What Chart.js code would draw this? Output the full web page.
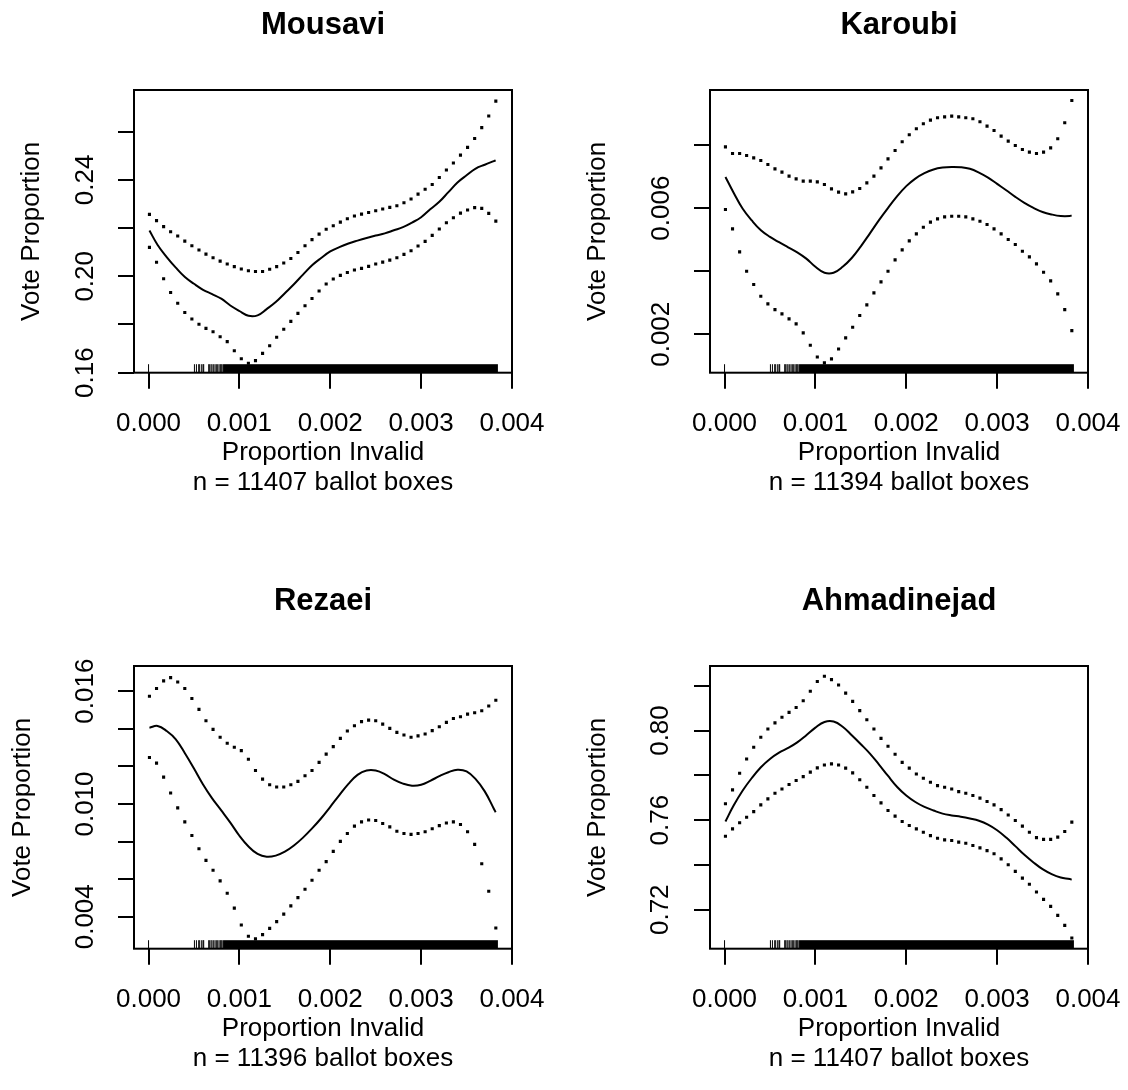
<!DOCTYPE html>
<html>
<head>
<meta charset="utf-8">
<script src="https://cdn.jsdelivr.net/npm/chart.js@4.4.1/dist/chart.umd.min.js"></script>
<style>
  html, body { margin: 0; padding: 0; background: #fff; }
  body { width: 1128px; height: 1090px; overflow: hidden; position: relative; }
  canvas { position: absolute; }
</style>
</head>
<body>
<canvas id="mousavi" width="564" height="545" style="left:0;top:0"></canvas>
<canvas id="karoubi" width="552" height="545" style="left:576px;top:0"></canvas>
<canvas id="rezaei" width="564" height="545" style="left:0;top:576px"></canvas>
<canvas id="ahmadinejad" width="552" height="545" style="left:576px;top:576px"></canvas>
<script>
// x positions of the fitted line and of the confidence band points
const xLine = [0.00001, 0.0001, 0.0002, 0.0003, 0.0004, 0.0005, 0.0006, 0.0007, 0.0008, 0.0009,
  0.0010, 0.0011, 0.0012, 0.0013, 0.0014, 0.0015, 0.0016, 0.0017, 0.0018, 0.0019,
  0.0020, 0.0021, 0.0022, 0.0023, 0.0024, 0.0025, 0.0026, 0.0027, 0.0028, 0.0029,
  0.0030, 0.0031, 0.0032, 0.0033, 0.0034, 0.0035, 0.0036, 0.0037, 0.0038, 0.00382];
const xBand = [0.000010, 0.000088, 0.000166, 0.000243, 0.000321, 0.000399, 0.000477, 0.000555, 0.000632, 0.000710,
  0.000788, 0.000866, 0.000944, 0.001021, 0.001099, 0.001177, 0.001255, 0.001333, 0.001410, 0.001488,
  0.001566, 0.001644, 0.001722, 0.001799, 0.001877, 0.001955, 0.002033, 0.002111, 0.002188, 0.002266,
  0.002344, 0.002422, 0.002500, 0.002577, 0.002655, 0.002733, 0.002811, 0.002889, 0.002966, 0.003044,
  0.003122, 0.003200, 0.003278, 0.003355, 0.003433, 0.003511, 0.003589, 0.003667, 0.003744, 0.003822];

const xTicks = [0, 0.001, 0.002, 0.003, 0.004];
const xTickLabels = ['0.000', '0.001', '0.002', '0.003', '0.004'];

// rug of ballot boxes: single marks, then the dense stretch
const rugMarks = [0, 0.000505, 0.000527, 0.000552, 0.000563, 0.000585, 0.0006, 0.000607, 0.000662, 0.000673,
  0.000688, 0.000699, 0.000717, 0.000732, 0.000746, 0.000761, 0.000776, 0.00079, 0.0008, 0.00081];
const rugBand = [0.00082, 0.003845];

// Mousavi
const mousaviFit = [0.2190, 0.2130, 0.2080, 0.2036, 0.1997, 0.1969, 0.1944, 0.1926, 0.1907, 0.1879,
  0.1856, 0.1836, 0.1838, 0.1864, 0.1893, 0.1930, 0.1967, 0.2007, 0.2046, 0.2076,
  0.2103, 0.2121, 0.2136, 0.2148, 0.2159, 0.2169, 0.2178, 0.2191, 0.2204, 0.2223,
  0.2245, 0.2278, 0.2309, 0.2349, 0.2389, 0.2419, 0.2447, 0.2463, 0.2478, 0.2481];
const mousaviUpper = [0.2257, 0.2231, 0.2206, 0.2185, 0.2167, 0.2146, 0.2127, 0.2109, 0.2092, 0.2077,
  0.2063, 0.2051, 0.2040, 0.2030, 0.2023, 0.2020, 0.2020, 0.2029, 0.2040, 0.2055,
  0.2074, 0.2099, 0.2127, 0.2152, 0.2175, 0.2195, 0.2210, 0.2225, 0.2239, 0.2250,
  0.2258, 0.2265, 0.2272, 0.2279, 0.2286, 0.2293, 0.2305, 0.2321, 0.2341, 0.2361,
  0.2381, 0.2410, 0.2441, 0.2470, 0.2503, 0.2535, 0.2572, 0.2617, 0.2665, 0.2727];
const mousaviLower = [0.2120, 0.2058, 0.1990, 0.1933, 0.1888, 0.1850, 0.1823, 0.1801, 0.1784, 0.1770,
  0.1749, 0.1729, 0.1691, 0.1658, 0.1639, 0.1650, 0.1680, 0.1712, 0.1747, 0.1780,
  0.1813, 0.1846, 0.1878, 0.1908, 0.1939, 0.1968, 0.1989, 0.2004, 0.2016, 0.2026,
  0.2033, 0.2041, 0.2051, 0.2059, 0.2067, 0.2077, 0.2091, 0.2106, 0.2126, 0.2145,
  0.2170, 0.2196, 0.2222, 0.2243, 0.2262, 0.2275, 0.2285, 0.2282, 0.2261, 0.2229];
const mousaviTicks = [0.16, 0.18, 0.20, 0.22, 0.24, 0.26];
const mousaviTickLabels = ['0.16', '', '0.20', '', '0.24', ''];

// Karoubi
const karoubiFit = [0.00699, 0.00649, 0.00598, 0.00561, 0.00530, 0.00509, 0.00492, 0.00476, 0.00460, 0.00440,
  0.00414, 0.00395, 0.00395, 0.00414, 0.00442, 0.00479, 0.00520, 0.00562, 0.00601, 0.00638,
  0.00670, 0.00694, 0.00711, 0.00723, 0.00729, 0.00731, 0.00730, 0.00725, 0.00713, 0.00697,
  0.00677, 0.00657, 0.00636, 0.00617, 0.00601, 0.00588, 0.00580, 0.00575, 0.00575, 0.00577];
const karoubiUpper = [0.007947, 0.007735, 0.007735, 0.007672, 0.007598, 0.007513, 0.007386, 0.007249, 0.007143, 0.007016,
  0.006931, 0.006857, 0.006857, 0.006836, 0.006751, 0.006614, 0.006508, 0.006455, 0.006519, 0.006624,
  0.006804, 0.007016, 0.007280, 0.007566, 0.007831, 0.008106, 0.008328, 0.008519, 0.008677, 0.008794,
  0.008868, 0.008899, 0.008921, 0.008899, 0.008868, 0.008836, 0.008741, 0.008603, 0.008466, 0.008286,
  0.008127, 0.007989, 0.007862, 0.007778, 0.007735, 0.007778, 0.007915, 0.008201, 0.008709, 0.009418];
const karoubiLower = [0.005958, 0.005344, 0.004614, 0.004000, 0.003577, 0.003206, 0.002963, 0.002783, 0.002646, 0.002487,
  0.002328, 0.002042, 0.001651, 0.001280, 0.001090, 0.001217, 0.001534, 0.001884, 0.002222, 0.002593,
  0.002931, 0.003312, 0.003661, 0.004000, 0.004360, 0.004677, 0.004963, 0.005185, 0.005397, 0.005556,
  0.005661, 0.005725, 0.005746, 0.005746, 0.005725, 0.005661, 0.005587, 0.005481, 0.005344, 0.005185,
  0.005005, 0.004847, 0.004635, 0.004455, 0.004233, 0.003968, 0.003693, 0.003280, 0.002783, 0.002116];
const karoubiTicks = [0.002, 0.004, 0.006, 0.008];
const karoubiTickLabels = ['0.002', '', '0.006', ''];

// Rezaei
const rezaeiFit = [0.01406, 0.01415, 0.01388, 0.01344, 0.01270, 0.01189, 0.01104, 0.01030, 0.00966, 0.00901,
  0.00831, 0.00774, 0.00734, 0.00719, 0.00725, 0.00746, 0.00779, 0.00821, 0.00870, 0.00924,
  0.00985, 0.01047, 0.01107, 0.01155, 0.01178, 0.01178, 0.01159, 0.01129, 0.01108, 0.01097,
  0.01102, 0.01123, 0.01148, 0.01169, 0.01182, 0.01173, 0.01132, 0.01067, 0.00975, 0.00956];
const rezaeiUpper = [0.01573, 0.01614, 0.01655, 0.01672, 0.01649, 0.01614, 0.01561, 0.01503, 0.01443, 0.01397,
  0.01355, 0.01323, 0.01302, 0.01284, 0.01238, 0.01178, 0.01132, 0.01102, 0.01090, 0.01090,
  0.01102, 0.01120, 0.01150, 0.01178, 0.01221, 0.01265, 0.01305, 0.01349, 0.01388, 0.01416,
  0.01438, 0.01446, 0.01443, 0.01425, 0.01402, 0.01381, 0.01367, 0.01355, 0.01362, 0.01372,
  0.01390, 0.01411, 0.01434, 0.01455, 0.01464, 0.01478, 0.01485, 0.01496, 0.01521, 0.01552];
const rezaeiLower = [0.01247, 0.01217, 0.01143, 0.01058, 0.00979, 0.00905, 0.00832, 0.00762, 0.00700, 0.00647,
  0.00591, 0.00525, 0.00446, 0.00356, 0.00296, 0.00282, 0.00305, 0.00338, 0.00374, 0.00414,
  0.00458, 0.00502, 0.00546, 0.00594, 0.00647, 0.00693, 0.00748, 0.00801, 0.00843, 0.00882,
  0.00905, 0.00915, 0.00912, 0.00896, 0.00878, 0.00855, 0.00843, 0.00838, 0.00843, 0.00852,
  0.00868, 0.00885, 0.00899, 0.00905, 0.00891, 0.00852, 0.00785, 0.00682, 0.00536, 0.00340];
const rezaeiTicks = [0.004, 0.006, 0.008, 0.010, 0.012, 0.014, 0.016];
const rezaeiTickLabels = ['0.004', '', '', '0.010', '', '', '0.016'];

// Ahmadinejad
const ahmadFit = [0.7594, 0.7665, 0.7732, 0.7788, 0.7836, 0.7873, 0.7901, 0.7922, 0.7947, 0.7979,
  0.8013, 0.8038, 0.8040, 0.8017, 0.7979, 0.7939, 0.7897, 0.7848, 0.7797, 0.7748,
  0.7710, 0.7681, 0.7659, 0.7643, 0.7629, 0.7621, 0.7615, 0.7607, 0.7597, 0.7580,
  0.7555, 0.7522, 0.7484, 0.7445, 0.7411, 0.7381, 0.7359, 0.7344, 0.7337, 0.7334];
const ahmadUpper = [0.7673, 0.7735, 0.7809, 0.7873, 0.7925, 0.7970, 0.8007, 0.8034, 0.8059, 0.8081,
  0.8103, 0.8133, 0.8175, 0.8219, 0.8242, 0.8227, 0.8203, 0.8167, 0.8130, 0.8089,
  0.8048, 0.8007, 0.7965, 0.7930, 0.7894, 0.7858, 0.7832, 0.7806, 0.7787, 0.7769,
  0.7754, 0.7747, 0.7739, 0.7727, 0.7720, 0.7710, 0.7698, 0.7683, 0.7668, 0.7647,
  0.7623, 0.7598, 0.7573, 0.7546, 0.7522, 0.7514, 0.7514, 0.7524, 0.7549, 0.7591];
const ahmadLower = [0.7528, 0.7561, 0.7588, 0.7613, 0.7638, 0.7668, 0.7695, 0.7720, 0.7739, 0.7759,
  0.7777, 0.7794, 0.7814, 0.7833, 0.7846, 0.7851, 0.7846, 0.7832, 0.7811, 0.7780,
  0.7747, 0.7710, 0.7677, 0.7643, 0.7618, 0.7594, 0.7576, 0.7561, 0.7546, 0.7531,
  0.7519, 0.7512, 0.7509, 0.7502, 0.7497, 0.7487, 0.7476, 0.7464, 0.7450, 0.7427,
  0.7401, 0.7371, 0.7341, 0.7314, 0.7279, 0.7246, 0.7215, 0.7175, 0.7130, 0.7074];
const ahmadTicks = [0.72, 0.74, 0.76, 0.78, 0.80, 0.82];
const ahmadTickLabels = ['0.72', '', '0.76', '', '0.80', ''];

const FONT = "'Liberation Sans', Arial, Helvetica, sans-serif";
Chart.defaults.font.family = FONT;
Chart.defaults.color = '#000';

function pairs(xs, ys) {
    return ys.map((y, i) => ({ x: xs[i], y: y }));
}

const boxPlugin = {
    id: 'plotBox',
    afterDraw(chart) {
        const { ctx, chartArea: a } = chart;
        ctx.save();
        ctx.strokeStyle = '#000';
        ctx.lineWidth = 2;
        ctx.strokeRect(a.left, a.top, a.right - a.left, a.bottom - a.top);
        ctx.restore();
    }
};

const rugPlugin = {
    id: 'rug',
    afterDatasetsDraw(chart) {
        const { ctx, chartArea: a } = chart;
        const x = chart.scales.x;
        const h = 8.5;
        ctx.save();
        ctx.fillStyle = '#000';
        rugMarks.forEach(v => {
            const px = x.getPixelForValue(v);
            ctx.fillRect(px - 0.5, a.bottom - h, 1, h);
        });
        const p0 = x.getPixelForValue(rugBand[0]);
        const p1 = x.getPixelForValue(rugBand[1]);
        ctx.fillRect(p0, a.bottom - h, p1 - p0, h);
        ctx.restore();
    }
};

function makePanel(id, p) {
    const bandStyle = {
        showLine: false,
        pointStyle: 'rect',
        pointRadius: 2.2,
        pointBorderWidth: 0,
        pointBackgroundColor: '#000',
        pointHoverRadius: 2.2
    };
    return new Chart(document.getElementById(id), {
        type: 'line',
        data: {
            datasets: [
                { label: 'fit', data: pairs(xLine, p.fit), borderColor: '#000', borderWidth: 2,
                  pointRadius: 0, tension: 0.4, fill: false },
                Object.assign({ label: 'upper', data: pairs(xBand, p.upper) }, bandStyle),
                Object.assign({ label: 'lower', data: pairs(xBand, p.lower) }, bandStyle)
            ]
        },
        options: {
            responsive: false,
            devicePixelRatio: 1,
            animation: false,
            events: [],
            layout: { padding: { left: 0, right: p.rightPad, top: 0, bottom: 0 } },
            plugins: {
                legend: { display: false },
                tooltip: { enabled: false },
                title: {
                    display: true,
                    text: p.title,
                    fullSize: false,
                    color: '#000',
                    font: { size: 31, weight: 'bold', lineHeight: 1.2 },
                    padding: { top: 7, bottom: 45.8 }
                }
            },
            scales: {
                x: {
                    type: 'linear',
                    min: -0.00016,
                    max: 0.004,
                    afterBuildTicks: s => { s.ticks = xTicks.map(v => ({ value: v })); },
                    afterFit: s => { s.height = 172.3; s.paddingLeft = 0; s.paddingRight = 0; },
                    border: { display: false },
                    grid: { drawOnChartArea: false, drawTicks: true, tickLength: 16, color: '#000', lineWidth: 2 },
                    ticks: {
                        autoSkip: false, maxRotation: 0, minRotation: 0, padding: 19.4,
                        font: { size: 26 }, color: '#000',
                        callback: (v, i) => xTickLabels[i]
                    },
                    title: {
                        display: true,
                        text: ['Proportion Invalid', p.nText],
                        color: '#000',
                        font: { size: 26, lineHeight: 1.15 },
                        padding: { top: 0, bottom: 47.4 }
                    }
                },
                y: {
                    type: 'linear',
                    min: p.yMin,
                    max: p.yMax,
                    afterBuildTicks: s => { s.ticks = p.yTicks.map(v => ({ value: v })); },
                    afterFit: s => { s.width = 134; s.paddingTop = 0; s.paddingBottom = 0; },
                    border: { display: false },
                    grid: { drawOnChartArea: false, drawTicks: true, tickLength: 16, color: '#000', lineWidth: 2 },
                    ticks: {
                        autoSkip: false, minRotation: 90, maxRotation: 90, crossAlign: 'center',
                        padding: p.yPad, font: { size: 26 }, color: '#000',
                        callback: (v, i) => p.yLabels[i]
                    },
                    title: {
                        display: true,
                        text: 'Vote Proportion',
                        color: '#000',
                        font: { size: 26, lineHeight: 1.15 },
                        padding: { top: p.yTitlePad, bottom: 0 }
                    }
                }
            }
        },
        plugins: [rugPlugin, boxPlugin]
    });
}

makePanel('mousavi', {
    title: 'Mousavi', nText: 'n = 11407 ballot boxes',
    fit: mousaviFit, upper: mousaviUpper, lower: mousaviLower,
    yMin: 0.16, yMax: 0.2773, yTicks: mousaviTicks, yLabels: mousaviTickLabels,
    yPad: 6.7, yTitlePad: 16.4, rightPad: 52
});
makePanel('karoubi', {
    title: 'Karoubi', nText: 'n = 11394 ballot boxes',
    fit: karoubiFit, upper: karoubiUpper, lower: karoubiLower,
    yMin: 0.00078, yMax: 0.00975, yTicks: karoubiTicks, yLabels: karoubiTickLabels,
    yPad: 0, yTitlePad: 7, rightPad: 40
});
makePanel('rezaei', {
    title: 'Rezaei', nText: 'n = 11396 ballot boxes',
    fit: rezaeiFit, upper: rezaeiUpper, lower: rezaeiLower,
    yMin: 0.0023, yMax: 0.01734, yTicks: rezaeiTicks, yLabels: rezaeiTickLabels,
    yPad: 0, yTitlePad: 8, rightPad: 52
});
makePanel('ahmadinejad', {
    title: 'Ahmadinejad', nText: 'n = 11407 ballot boxes',
    fit: ahmadFit, upper: ahmadUpper, lower: ahmadLower,
    yMin: 0.7026, yMax: 0.8288, yTicks: ahmadTicks, yLabels: ahmadTickLabels,
    yPad: 7.7, yTitlePad: 7, rightPad: 40
});
</script>
</body>
</html>
